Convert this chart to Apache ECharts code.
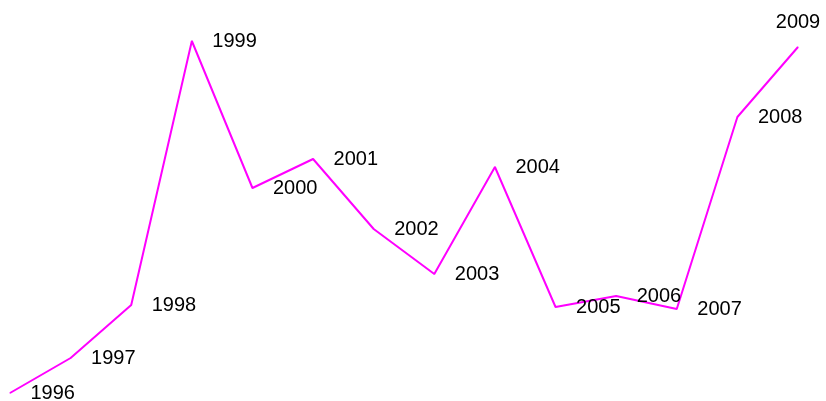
<!DOCTYPE html>
<html>
<head>
<meta charset="utf-8">
<script src="https://cdn.jsdelivr.net/npm/echarts@6/dist/echarts.min.js"></script>
<style>
  html, body { margin: 0; padding: 0; background: #fff; }
  #chart { width: 826px; height: 401px; }
</style>
</head>
<body>
<div id="chart"></div>
<script>
const years = ['1996', '1997', '1998', '1999', '2000', '2001', '2002', '2003', '2004', '2005', '2006', '2007', '2008', '2009'];
const values = [8, 43, 96, 360, 213, 242, 172, 127, 234, 94, 105, 92, 284, 354];

const myChart = echarts.init(document.getElementById('chart'));
const option = {
  animation: false,
  grid: { left: 10, right: 28, top: 0, bottom: 0 },
  xAxis: {
    type: 'category',
    data: years,
    boundaryGap: false,
    show: false
  },
  yAxis: {
    type: 'value',
    min: 0,
    max: 401,
    show: false
  },
  series: [
    {
      type: 'line',
      data: values.map((v, i) => {
        // the last label sits above its point, as in the picture
        if (i === values.length - 1) {
          return { value: v, label: { position: 'top', distance: 14 } };
        }
        return v;
      }),
      showSymbol: true,
      symbol: 'circle',
      symbolSize: 1,
      lineStyle: { color: '#ff00ff', width: 2 },
      itemStyle: { color: '#ff00ff' },
      label: {
        show: true,
        position: 'right',
        distance: 20,
        formatter: p => years[p.dataIndex],
        color: '#000',
        fontSize: 20,
        fontFamily: 'Liberation Sans, Arial, sans-serif'
      }
    }
  ]
};
myChart.setOption(option);
</script>
</body>
</html>
